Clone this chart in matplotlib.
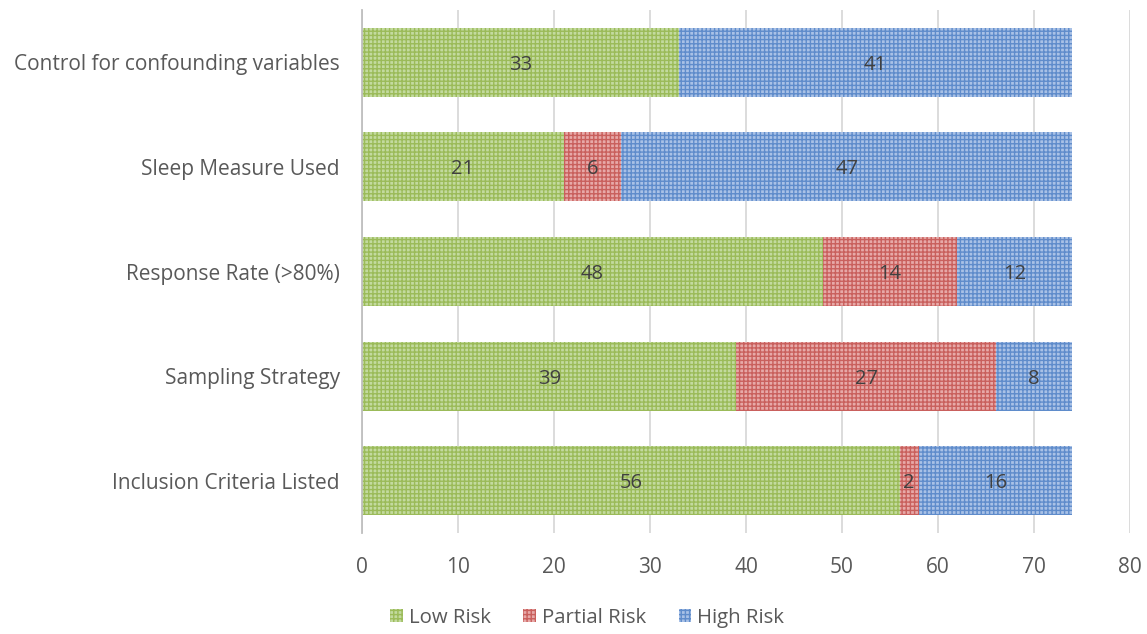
import matplotlib
matplotlib.use("Agg")
import matplotlib.pyplot as plt
import numpy as np

categories = ["Inclusion Criteria Listed", "Sampling Strategy", "Response Rate (>80%)",
              "Sleep Measure Used", "Control for confounding variables"]
low_risk = [56, 39, 48, 21, 33]
partial_risk = [2, 27, 14, 6, 0]
high_risk = [16, 8, 12, 47, 41]
series_names = ["Low Risk", "Partial Risk", "High Risk"]
x_ticks = [0, 10, 20, 30, 40, 50, 60, 70, 80]

plt.rcParams['font.family'] = ['Open Sans', 'DejaVu Sans']
plt.rcParams['hatch.linewidth'] = 1.0

faces = ["#c3da9f", "#e7a9a8", "#a9c1e6"]
hatch_cols = ["#9bbb59", "#c9605d", "#5f8ccb"]

fig = plt.figure(figsize=(11.47, 6.34), dpi=100)
ax = fig.add_axes([0.3156, 0.1593, 0.6696, 0.8249])

y = np.arange(len(categories))
left = np.zeros(len(categories))
handles = []
for vals, name, fc, hc in zip([low_risk, partial_risk, high_risk], series_names, faces, hatch_cols):
    vals = np.array(vals, dtype=float)
    bars = ax.barh(y, vals, left=left, height=0.66, color=fc, edgecolor=hc,
                   hatch="++++", linewidth=0, label=name, zorder=2)
    for yi, v, l in zip(y, vals, left):
        if v > 0:
            ax.text(l + v / 2, yi, f"{int(v)}", ha="center", va="center_baseline",
                    fontsize=14.5, color="#404040", zorder=3)
    handles.append(bars)
    left += vals

ax.set_xlim(0, 80)
ax.set_ylim(-0.5, 4.5)
ax.set_xticks(x_ticks)
ax.set_xticklabels([str(t) for t in x_ticks])
ax.set_yticks(y)
ax.set_yticklabels(categories)
ax.grid(axis="x", color="#d9d9d9", linewidth=1.3, zorder=0)
ax.set_axisbelow(True)
for s in ["top", "right", "bottom"]:
    ax.spines[s].set_visible(False)
ax.spines["left"].set_color("#bfbfbf")
ax.spines["left"].set_linewidth(1.3)
ax.tick_params(axis="both", length=0, labelsize=15, colors="#595959")
ax.tick_params(axis="x", pad=17)
ax.tick_params(axis="y", pad=16)

fig.legend(handles=handles, labels=series_names, loc="center", bbox_to_anchor=(0.512, 0.026),
           ncol=3, frameon=False, fontsize=14.7, labelcolor="#595959",
           handlelength=0.6, handleheight=0.6, handletextpad=0.3, columnspacing=1.6)

fig.savefig("out.png", dpi=100)
